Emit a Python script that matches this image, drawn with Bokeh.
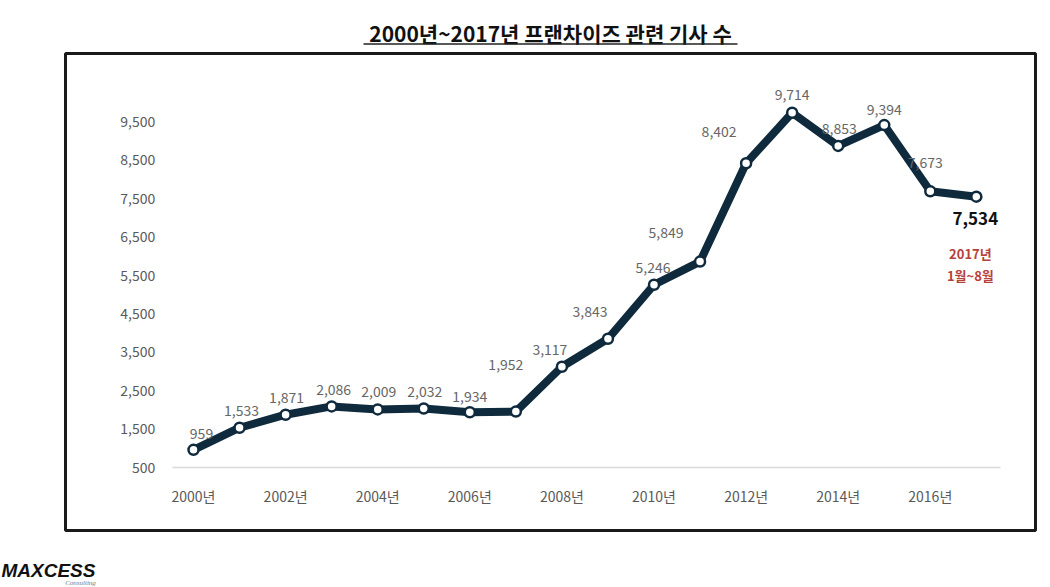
from bokeh.plotting import figure
from bokeh.models import (ColumnDataSource, FixedTicker, NumeralTickFormatter,
                          Label, BoxAnnotation, Range1d)
from bokeh.core.properties import value
from bokeh.embed import file_html
from bokeh.resources import INLINE

years = list(range(2000, 2018))
counts = [959, 1533, 1871, 2086, 2009, 2032, 1934, 1952, 3117, 3843,
          5246, 5849, 8402, 9714, 8853, 9394, 7673, 7534]
label_text = [f"{v:,}" for v in counts]
x_ticks = [2000, 2002, 2004, 2006, 2008, 2010, 2012, 2014, 2016]
x_tick_labels = {t: f"{t}년" for t in x_ticks}
y_ticks = [500, 1500, 2500, 3500, 4500, 5500, 6500, 7500, 8500, 9500]
title_text = "2000년~2017년 프랜차이즈 관련 기사 수"
note_lines = ["2017년", "1월~8월"]

# label offsets (screen px) relative to each point
dx = [8, 2, 1, 2, 1, 1, 0, -10, -12, -18, -1, -34, -27, 0, 1, 0, -5]
dy = [-16, -17, -17, -17, -18, -17, -16, -47, -17, -27, -17, -29, -32, -18, -17, -16, -29]

FONT = "Noto Sans CJK KR"
NAVY = "#0f2a3d"
W, H = 1050, 587

p = figure(width=W, height=H, output_backend="svg", toolbar_location=None,
           x_range=Range1d(1995.809, 2018.610), y_range=Range1d(-2617, 12630),
           min_border=0)
p.outline_line_color = None
p.grid.visible = False
p.background_fill_color = "white"
p.border_fill_color = "white"

# outer frame box (screen units, origin bottom-left of the frame)
p.add_layout(BoxAnnotation(left=65, right=1035, top=H - 53, bottom=H - 530,
                           left_units="screen", right_units="screen",
                           top_units="screen", bottom_units="screen",
                           fill_alpha=0, line_color="#1a1a1a", line_alpha=1,
                           line_width=3))

src = ColumnDataSource(dict(x=years, y=counts))
p.line("x", "y", source=src, line_color=NAVY, line_width=8, line_join="round")
p.scatter("x", "y", source=src, size=10, fill_color="white", line_color=NAVY, line_width=2.5)

lab = ColumnDataSource(dict(x=years[:-1], y=counts[:-1], t=label_text[:-1], dx=dx, dy=dy))
p.text("x", "y", text="t", source=lab, x_offset="dx", y_offset="dy",
       text_align="center", text_baseline="middle", text_font=value(FONT),
       text_font_size="14px", text_color="#666666")

last = ColumnDataSource(dict(x=years[-1:], y=counts[-1:], t=label_text[-1:]))
p.text("x", "y", text="t", source=last, x_offset=-1, y_offset=22,
       text_align="center", text_baseline="middle", text_font=value(FONT),
       text_font_size="17px", text_font_style="bold", text_color="#111111")

note = ColumnDataSource(dict(x=[years[-1]] * 2, y=[counts[-1]] * 2, t=note_lines, dy=[57, 79]))
p.text("x", "y", text="t", source=note, x_offset=-6, y_offset="dy",
       text_align="center", text_baseline="middle", text_font=value(FONT),
       text_font_size="13px", text_font_style="bold", text_color="#b8403a")

# axes drawn inside the frame at fixed locations
p.xaxis.fixed_location = 500
p.xaxis.bounds = (1999.54, 2017.52)
p.xaxis.ticker = FixedTicker(ticks=x_ticks)
p.xaxis.major_label_overrides = x_tick_labels
p.xaxis.axis_line_color = "#d9d9d9"
p.xaxis.axis_line_width = 1.5
p.xaxis.major_tick_line_color = None
p.xaxis.minor_tick_line_color = None
p.xaxis.major_tick_out = 0
p.xaxis.major_tick_in = 0
p.xaxis.major_label_standoff = 19
p.xaxis.major_label_text_font = FONT
p.xaxis.major_label_text_font_size = "14px"
p.xaxis.major_label_text_color = "#595959"

p.yaxis.fixed_location = 1999.54
p.yaxis.ticker = FixedTicker(ticks=y_ticks)
p.yaxis.formatter = NumeralTickFormatter(format="0,0")
p.yaxis.axis_line_color = None
p.yaxis.major_tick_line_color = None
p.yaxis.minor_tick_line_color = None
p.yaxis.major_tick_out = 0
p.yaxis.major_tick_in = 0
p.yaxis.major_label_standoff = 17
p.yaxis.major_label_text_font = FONT
p.yaxis.major_label_text_font_size = "14px"
p.yaxis.major_label_text_color = "#595959"

# title + underline
p.add_layout(Label(x=550, y=H - 32, x_units="screen", y_units="screen", text=title_text,
                   text_align="center", text_baseline="middle", text_font=FONT,
                   text_font_size="21px", text_font_style="bold", text_color="#111111"))
p.add_layout(BoxAnnotation(left=363, right=737, top=H - 42.8, bottom=H - 44.2,
                           left_units="screen", right_units="screen",
                           top_units="screen", bottom_units="screen",
                           fill_color="#222222", fill_alpha=1, line_color=None))

# logo text
p.add_layout(Label(x=1, y=17, x_units="screen", y_units="screen", text="MAXCESS",
                   text_align="left", text_baseline="middle", text_font="Liberation Sans",
                   text_font_size="19px", text_font_style="bold italic", text_color="#111111"))
p.add_layout(Label(x=80, y=5, x_units="screen", y_units="screen", text="Consulting",
                   text_align="center", text_baseline="middle", text_font="Liberation Serif",
                   text_font_size="7px", text_font_style="italic", text_color="#777777"))

open("out.html", "w").write(file_html(p, INLINE))
